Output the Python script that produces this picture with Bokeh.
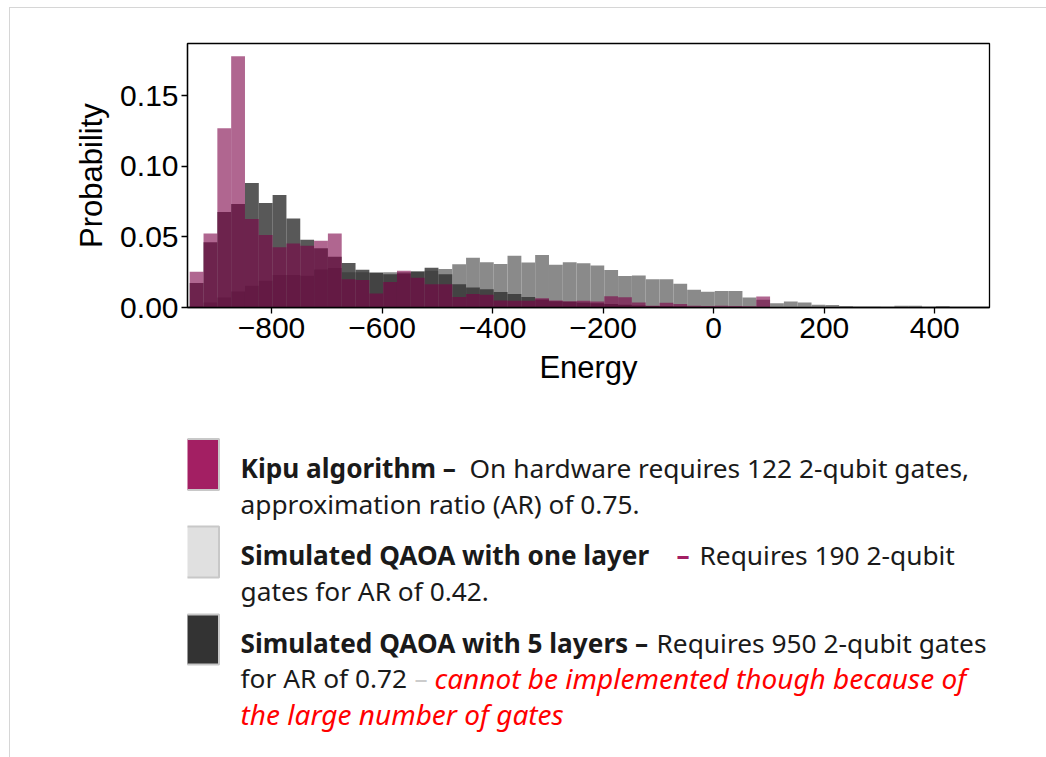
from bokeh.plotting import figure
from bokeh.models import Range1d, FixedTicker, ColumnDataSource, Label, BoxAnnotation
from bokeh.layouts import column
from bokeh.embed import file_html
from bokeh.resources import INLINE

# ---------------- data ----------------
bin_start = -948
bin_width = 25

kipu = [0.0253, 0.0525, 0.1270, 0.1780, 0.0626, 0.0513, 0.0426, 0.0454, 0.0437, 0.0473,
        0.0525, 0.0200, 0.0195, 0.0100, 0.0180, 0.0260, 0.0210, 0.0165, 0.0165, 0.0075,
        0.0095, 0.0090, 0.0050, 0.0048, 0.0047, 0.0066, 0.0050, 0.0045, 0.0047, 0.0042,
        0.0080, 0.0072, 0.0035, 0.0012, 0.0033, 0.0024, 0.0012, 0.0010, 0.0012, 0.0010,
        0.0008, 0.0078, 0.0000, 0.0002, 0.0000]

qaoa5 = [0.0173, 0.0463, 0.0676, 0.0733, 0.0882, 0.0740, 0.0797, 0.0630, 0.0480, 0.0420,
         0.0360, 0.0315, 0.0268, 0.0245, 0.0236, 0.0240, 0.0255, 0.0282, 0.0236, 0.0165,
         0.0142, 0.0130, 0.0110, 0.0095, 0.0074, 0.0057, 0.0045, 0.0040, 0.0035, 0.0030,
         0.0025, 0.0020, 0.0015, 0.0010, 0.0010, 0.0008, 0.0006, 0.0005, 0.0004, 0.0003,
         0.0002, 0.0002, 0.0001]

qaoa1 = [0.0010, 0.0035, 0.0070, 0.0113, 0.0154, 0.0190, 0.0230, 0.0230, 0.0225, 0.0270,
         0.0280, 0.0250, 0.0250, 0.0250, 0.0250, 0.0250, 0.0255, 0.0260, 0.0272, 0.0307,
         0.0352, 0.0320, 0.0308, 0.0366, 0.0319, 0.0371, 0.0303, 0.0320, 0.0314, 0.0298,
         0.0265, 0.0224, 0.0226, 0.0200, 0.0200, 0.0168, 0.0125, 0.0112, 0.0116, 0.0116,
         0.0071, 0.0055, 0.0030, 0.0043, 0.0035, 0.0019, 0.0017, 0.0010, 0.0005, 0.0005,
         0.0000, 0.0012, 0.0012, 0.0000, 0.0010]

x_ticks = [-800, -600, -400, -200, 0, 200, 400]
x_tick_labels = ["\u2212800", "\u2212600", "\u2212400", "\u2212200", "0", "200", "400"]
y_ticks = [0.0, 0.05, 0.10, 0.15]
y_tick_labels = ["0.00", "0.05", "0.10", "0.15"]

legend_titles = ["Kipu algorithm \u2013", "Simulated QAOA with one layer", "Simulated QAOA with 5 layers \u2013"]
legend_colors = ["#a31f63", "#e0e0e0", "#333333"]


def hist_source(vals):
    left, right, top = [], [], []
    for i, v in enumerate(vals):
        if v > 0:
            l = bin_start + i * bin_width
            left.append(l)
            right.append(l + bin_width)
            top.append(v)
    return ColumnDataSource(dict(left=left, right=right, top=top, bottom=[0] * len(top)))


# ---------------- chart ----------------
p1 = figure(width=1036, height=386, x_range=Range1d(-952, 499), y_range=Range1d(0, 0.187),
            output_backend="svg", toolbar_location=None,
            min_border_left=177, min_border_right=57, min_border_top=35, min_border_bottom=87)
p1.grid.visible = False
p1.outline_line_color = "black"
p1.outline_line_width = 1.3
p1.background_fill_color = "white"
p1.border_fill_color = "white"

p1.quad(left="left", right="right", top="top", bottom="bottom", source=hist_source(qaoa1),
        fill_color="#8a8a8a", fill_alpha=1.0, line_color=None)
p1.quad(left="left", right="right", top="top", bottom="bottom", source=hist_source(qaoa5),
        fill_color="#333333", fill_alpha=0.82, line_color=None)
p1.quad(left="left", right="right", top="top", bottom="bottom", source=hist_source(kipu),
        fill_color="#7b0046", fill_alpha=0.6, line_color=None)

p1.xaxis.ticker = FixedTicker(ticks=x_ticks)
p1.xaxis.major_label_overrides = {t: l for t, l in zip(x_ticks, x_tick_labels)}
p1.yaxis.ticker = FixedTicker(ticks=y_ticks)
p1.yaxis.major_label_overrides = {t: l for t, l in zip(y_ticks, y_tick_labels)}
p1.xaxis.axis_label = "Energy"
p1.yaxis.axis_label = "Probability"
for ax in (p1.xaxis, p1.yaxis):
    ax.axis_line_color = "black"
    ax.axis_line_width = 1.3
    ax.minor_tick_line_color = None
    ax.major_tick_in = 0
    ax.major_tick_out = 6
    ax.major_tick_line_width = 1.3
    ax.major_tick_line_color = "black"
    ax.major_label_text_font = "Liberation Sans"
    ax.major_label_text_font_size = "30px"
    ax.major_label_text_color = "black"
    ax.axis_label_text_font = "Liberation Sans"
    ax.axis_label_text_font_size = "31px"
    ax.axis_label_text_font_style = "normal"
    ax.axis_label_text_color = "black"
p1.xaxis.major_label_standoff = 4
p1.xaxis.axis_label_standoff = 9
p1.yaxis.major_label_standoff = 3
p1.yaxis.axis_label_standoff = 8

# ---------------- legend panel (data units = page pixels) ----------------
# the column aligns this frame with the chart frame (page x 187..989)
p2 = figure(width=1036, height=363, x_range=Range1d(187, 989), y_range=Range1d(757, 394),
            output_backend="svg", toolbar_location=None,
            min_border_left=177, min_border_right=57, min_border_top=0, min_border_bottom=0,
            x_axis_type=None, y_axis_type=None)
p2.grid.visible = False
p2.outline_line_color = None
p2.background_fill_color = "white"
p2.border_fill_color = "white"

sq_top = [438.5, 526.0, 614.0]
sq_bottom = [489.5, 577.0, 664.0]
for c, t, b in zip(legend_colors, sq_top, sq_bottom):
    p2.add_layout(BoxAnnotation(left=167.5, right=218.5, top=t, bottom=b,
                                fill_color=c, fill_alpha=1.0,
                                line_color="#c8c8c8", line_width=2, line_alpha=1.0))

FONT = "Noto Sans"
SIZES = {"normal": "26.3px", "bold": "26.2px", "italic": "28px"}
segments = [
    # x, y, text, style, color
    (240, 467, legend_titles[0], "bold", "#1a1a1a"),
    (469, 467, "On hardware requires 122 2-qubit gates,", "normal", "#1a1a1a"),
    (240, 503, "approximation ratio (AR) of 0.75.", "normal", "#1a1a1a"),
    (240, 554.5, legend_titles[1], "bold", "#1a1a1a"),
    (676, 554.5, "\u2013", "bold", "#a31f63"),
    (699, 554.5, "Requires 190 2-qubit", "normal", "#1a1a1a"),
    (240, 590.5, "gates for AR of 0.42.", "normal", "#1a1a1a"),
    (240, 642.5, legend_titles[2], "bold", "#1a1a1a"),
    (656, 642.5, "Requires 950 2-qubit gates", "normal", "#1a1a1a"),
    (240, 677, "for AR of 0.72", "normal", "#1a1a1a"),
    (414, 677, "\u2013", "normal", "#cccccc"),
    (434, 677, "cannot be implemented  though because of", "italic", "#ff0000"),
    (240, 713, "the large number of gates", "italic", "#ff0000"),
]
for x, y, t, st, col in segments:
    p2.add_layout(Label(x=x, y=y, text=t, text_font=FONT, text_font_size=SIZES[st],
                        text_font_style=st, text_color=col,
                        text_baseline="alphabetic", text_align="left"))

layout = column(p1, p2, margin=(7, 0, 0, 9),
                styles={"border-top": "1px solid #d6d6d6", "border-left": "1px solid #d6d6d6"})

open("out.html", "w").write(file_html(layout, INLINE))
